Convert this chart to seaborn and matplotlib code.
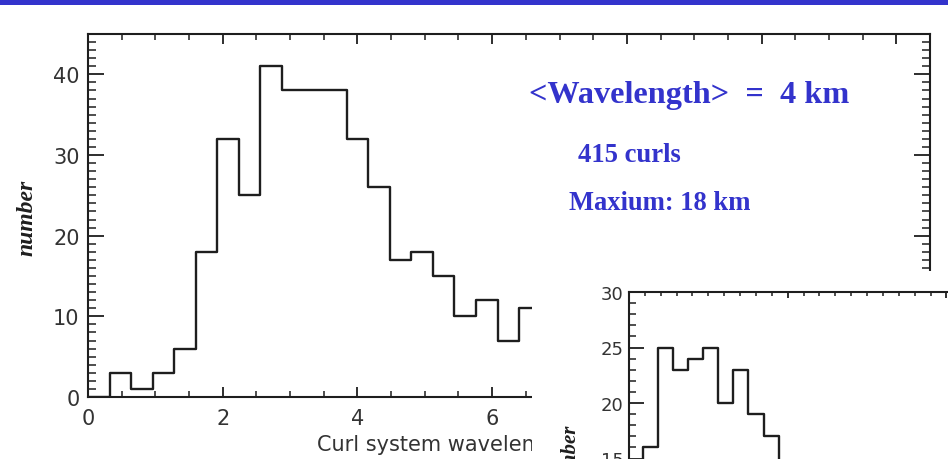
import numpy as np
import pandas as pd
import matplotlib
matplotlib.use("Agg")
import matplotlib.pyplot as plt
from matplotlib.patches import Rectangle
from matplotlib.ticker import MultipleLocator
import seaborn as sns

# ---------------- data ----------------
main_edges = [0.0, 0.32, 0.64, 0.96, 1.28, 1.60, 1.92, 2.24, 2.56, 2.88, 3.20,
              3.52, 3.84, 4.16, 4.48, 4.80, 5.12, 5.44, 5.76, 6.08, 6.40, 6.72]
main_counts = [0, 3, 1, 3, 6, 18, 32, 25, 41, 38, 38, 38, 32, 26, 17, 18, 15, 10, 12, 7, 11]
main_xticks = [0, 2, 4, 6, 8, 10, 12]
main_yticks = [0, 10, 20, 30, 40]

inset_edges = [0.0, 0.88, 1.85, 2.79, 3.74, 4.68, 5.63, 6.57, 7.52, 8.51, 9.47, 10.42]
inset_counts = [0, 16, 25, 23, 24, 25, 20, 23, 19, 17, 12]
inset_yticks = [0, 5, 10, 15, 20, 25, 30]
inset_xticks = [0, 10, 20, 30]

x_label = "Curl system wavelength (km)"
y_label = "number"
note_title = "<Wavelength>  =  4 km"
note_count = "415 curls"
note_max = "Maxium: 18 km"

BLUE = "#3333cc"
INK = "#1e1e1e"
TICKTXT = "#333333"

sns.set_style("white")
plt.rcParams["font.family"] = ["DejaVu Sans"]

W, H = 948, 460
fig = plt.figure(figsize=(W / 100, H / 100), dpi=100)
fig.patch.set_facecolor("white")

def fx(px):
    return px / W

def fy(py):
    return 1 - py / H

# ---------------- main axes ----------------
ax = fig.add_axes([fx(88), fy(398), fx(930) - fx(88), fy(35) - fy(398)])
ax.set_zorder(1)
mdf = pd.DataFrame({"x": [(a + b) / 2 for a, b in zip(main_edges[:-1], main_edges[1:])],
                    "n": main_counts})
sns.histplot(data=mdf, x="x", weights="n", bins=main_edges, element="step",
             fill=False, color=INK, linewidth=1.7, ax=ax)
ax.set_xlim(0, 12.5)
ax.set_ylim(0, 45)
ax.set_xticks(main_xticks)
ax.set_yticks(main_yticks)
ax.xaxis.set_minor_locator(MultipleLocator(0.5))
ax.yaxis.set_minor_locator(MultipleLocator(1))
for s in ax.spines.values():
    s.set_visible(True)
    s.set_linewidth(1.5)
    s.set_color(INK)
ax.tick_params(axis="x", which="major", direction="in", length=7, width=1.3,
               top=True, bottom=True, labelsize=15, labelcolor=TICKTXT, pad=8, color=INK)
ax.tick_params(axis="x", which="minor", direction="in", length=4, width=1.1,
               top=True, bottom=True, color=INK)
ax.tick_params(axis="y", which="major", direction="in", length=11.5, width=1.3,
               left=True, right=True, labelsize=15, labelcolor=TICKTXT, pad=6, color=INK)
ax.tick_params(axis="y", which="minor", direction="in", length=5.5, width=1.1,
               left=True, right=True, color=INK)
ax.set_xlabel(x_label, fontsize=15, color=TICKTXT, ha="left", va="center")
ax.xaxis.set_label_coords((317 - 88) / 842, (398 - 445) / 363)
ax.set_ylabel(y_label, fontsize=17, color=INK, family="Liberation Serif",
              fontweight="bold", fontstyle="italic", va="center", ha="center")
ax.yaxis.set_label_coords((27 - 88) / 842, (398 - 218) / 363)

# ---------------- blue bar ----------------
fig.add_artist(Rectangle((0, fy(6)), 1, 6 / H, transform=fig.transFigure,
                         facecolor=BLUE, edgecolor="none", zorder=5))

# ---------------- white cover for inset image ----------------
fig.add_artist(Rectangle((fx(532), 0), 1 - fx(532), fy(272), transform=fig.transFigure,
                         facecolor="white", edgecolor="none", zorder=2))

# ---------------- inset axes ----------------
px_unit_y = 11.1
px_unit_x = 15.87
ih = 30 * px_unit_y
iw = 30 * px_unit_x
ax2 = fig.add_axes([fx(629), fy(293 + ih), iw / W, ih / H])
ax2.set_zorder(3)
ax2.set_facecolor("white")
idf = pd.DataFrame({"x": [(a + b) / 2 for a, b in zip(inset_edges[:-1], inset_edges[1:])],
                    "n": inset_counts})
sns.histplot(data=idf, x="x", weights="n", bins=inset_edges, element="step",
             fill=False, color=INK, linewidth=1.7, ax=ax2)
ax2.set_xlim(0, 30)
ax2.set_ylim(0, 30)
ax2.set_xticks(inset_xticks)
ax2.set_yticks(inset_yticks)
ax2.xaxis.set_minor_locator(MultipleLocator(1))
ax2.yaxis.set_minor_locator(MultipleLocator(1))
for s in ax2.spines.values():
    s.set_visible(True)
    s.set_linewidth(1.5)
    s.set_color(INK)
ax2.tick_params(axis="x", which="major", direction="in", length=4.5, width=1.3,
                top=True, bottom=True, labelbottom=False, color=INK)
ax2.tick_params(axis="x", which="minor", direction="in", length=3, width=1.1,
                top=True, bottom=True, color=INK)
ax2.tick_params(axis="y", which="major", direction="in", length=11, width=1.3,
                left=True, right=True, labelsize=13, labelcolor=TICKTXT, pad=4, color=INK)
ax2.tick_params(axis="y", which="minor", direction="in", length=5, width=1.1,
                left=True, right=True, color=INK)
ax2.set_xlabel("")
ax2.set_ylabel("")
fig.text(fx(571), fy(458), y_label, rotation=90, ha="center", va="center",
         fontsize=15, family="Liberation Serif", fontweight="bold", fontstyle="italic",
         color=INK, zorder=4)

# ---------------- annotation text ----------------
fig.text(fx(529), fy(103), note_title, ha="left", va="baseline", fontsize=23.2,
         family="Liberation Serif", fontweight="bold", color=BLUE, zorder=6)
fig.text(fx(578), fy(161.7), note_count, ha="left", va="baseline", fontsize=19.2,
         family="Liberation Serif", fontweight="bold", color=BLUE, zorder=6)
fig.text(fx(569), fy(210), note_max, ha="left", va="baseline", fontsize=19.1,
         family="Liberation Serif", fontweight="bold", color=BLUE, zorder=6)

fig.savefig("out.png", dpi=100)
